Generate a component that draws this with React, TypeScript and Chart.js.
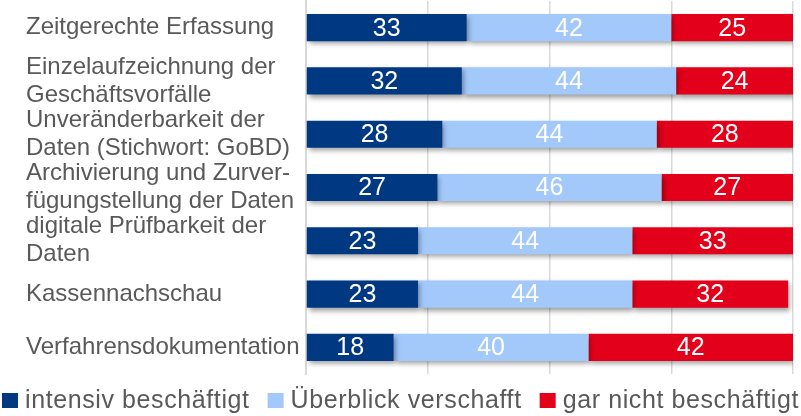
import React, { useEffect, useRef } from "react";
import { Chart, registerables } from "chart.js";

Chart.register(...registerables);

const categories: (string | string[])[] = [
  "Zeitgerechte Erfassung",
  ["Einzelaufzeichnung der", "Geschäftsvorfälle"],
  ["Unveränderbarkeit der", "Daten (Stichwort: GoBD)"],
  ["Archivierung und Zurver-", "fügungstellung der Daten"],
  ["digitale Prüfbarkeit der", "Daten"],
  "Kassennachschau",
  "Verfahrensdokumentation",
];
const seriesNames = ["intensiv beschäftigt", "Überblick verschafft", "gar nicht beschäftigt"];
const intensiv = [33, 32, 28, 27, 23, 23, 18];
const ueberblick = [42, 44, 44, 46, 44, 44, 40];
const garNicht = [25, 24, 28, 27, 33, 32, 42];
const xMax = 100;
const xStep = 25;

const FONT = '"Liberation Sans", Arial, sans-serif';
const TEXT_COLOR = "#595959";
const COLORS = ["#003882", "#A3C8FA", "#E2001A"];

const shadowAndLabels = {
  id: "shadowAndLabels",
  beforeDatasetsDraw(chart: any) {
    const ctx = chart.ctx;
    ctx.save();
    ctx.shadowColor = "rgba(0,0,0,0.38)";
    ctx.shadowBlur = 5;
    ctx.shadowOffsetX = 2;
    ctx.shadowOffsetY = 3;
  },
  afterDatasetsDraw(chart: any) {
    const ctx = chart.ctx;
    ctx.restore();
    ctx.save();
    ctx.font = `25px ${FONT}`;
    ctx.fillStyle = "#FFFFFF";
    ctx.textAlign = "center";
    ctx.textBaseline = "middle";
    chart.data.datasets.forEach((ds: any, di: number) => {
      const meta = chart.getDatasetMeta(di);
      meta.data.forEach((el: any, i: number) => {
        const v = ds.data[i];
        const x = (el.x + el.base) / 2;
        ctx.fillText(String(v), x, el.y + 1);
      });
    });
    ctx.restore();
  },
};

const customLegend = {
  id: "customLegend",
  afterDraw(chart: any) {
    const ctx = chart.ctx;
    ctx.save();
    ctx.font = `25px ${FONT}`;
    (ctx as any).letterSpacing = "0.6px";
    const boxW = 16;
    const boxH = 15;
    const gapBT = 7;
    const gapItem = 18;
    const items = chart.data.datasets.map((ds: any) => ({
      label: ds.label as string,
      color: ds.backgroundColor as string,
      w: ctx.measureText(ds.label).width,
    }));
    let total = 0;
    items.forEach((it: any, i: number) => {
      total += boxW + gapBT + it.w + (i > 0 ? gapItem : 0);
    });
    let x = (chart.width - total) / 2;
    const baseline = chart.height - 8;
    ctx.textAlign = "left";
    ctx.textBaseline = "alphabetic";
    items.forEach((it: any) => {
      ctx.fillStyle = it.color;
      ctx.fillRect(x, baseline - 15, boxW, boxH);
      ctx.fillStyle = TEXT_COLOR;
      ctx.fillText(it.label, x + boxW + gapBT, baseline);
      x += boxW + gapBT + it.w + gapItem;
    });
    ctx.restore();
  },
};

export default function App() {
  const canvasRef = useRef<HTMLCanvasElement | null>(null);

  useEffect(() => {
    const canvas = canvasRef.current;
    if (!canvas) return;
    const chart = new Chart(canvas, {
      type: "bar",
      data: {
        labels: categories as any,
        datasets: [
          { label: seriesNames[0], data: intensiv, backgroundColor: COLORS[0] },
          { label: seriesNames[1], data: ueberblick, backgroundColor: COLORS[1] },
          { label: seriesNames[2], data: garNicht, backgroundColor: COLORS[2] },
        ],
      },
      options: {
        indexAxis: "y",
        responsive: false,
        animation: false,
        maintainAspectRatio: false,
        layout: { padding: { top: 1, left: 26, right: 8, bottom: 42 } },
        datasets: {
          bar: { categoryPercentage: 1, barPercentage: 0.51, borderWidth: 0 },
        } as any,
        plugins: {
          legend: { display: false },
          tooltip: { enabled: false },
          title: { display: false },
        },
        scales: {
          x: {
            stacked: true,
            min: 0,
            max: xMax,
            ticks: { display: false, stepSize: xStep },
            grid: { color: "#D9D9D9", lineWidth: 1.5, drawTicks: false },
            border: { display: false },
            afterFit(scale: any) {
              scale.height = 0;
              scale.paddingLeft = 0;
              scale.paddingRight = 0;
            },
          },
          y: {
            stacked: true,
            ticks: {
              crossAlign: "far",
              autoSkip: false,
              color: TEXT_COLOR,
              font: { family: FONT, size: 24, lineHeight: 1.17 },
              padding: 0,
            },
            grid: { display: false, drawTicks: false },
            border: { display: true, color: "#D9D9D9", width: 2 },
            afterFit(scale: any) {
              scale.width = 280;
              scale.paddingTop = 0;
              scale.paddingBottom = 0;
            },
          },
        },
      },
      plugins: [shadowAndLabels, customLegend],
    });
    return () => chart.destroy();
  }, []);

  return (
    <div style={{ position: "absolute", left: 0, top: 0, width: 801, height: 416, background: "#fff" }}>
      <canvas ref={canvasRef} width={801} height={416} style={{ width: 801, height: 416, display: "block" }} />
    </div>
  );
}
